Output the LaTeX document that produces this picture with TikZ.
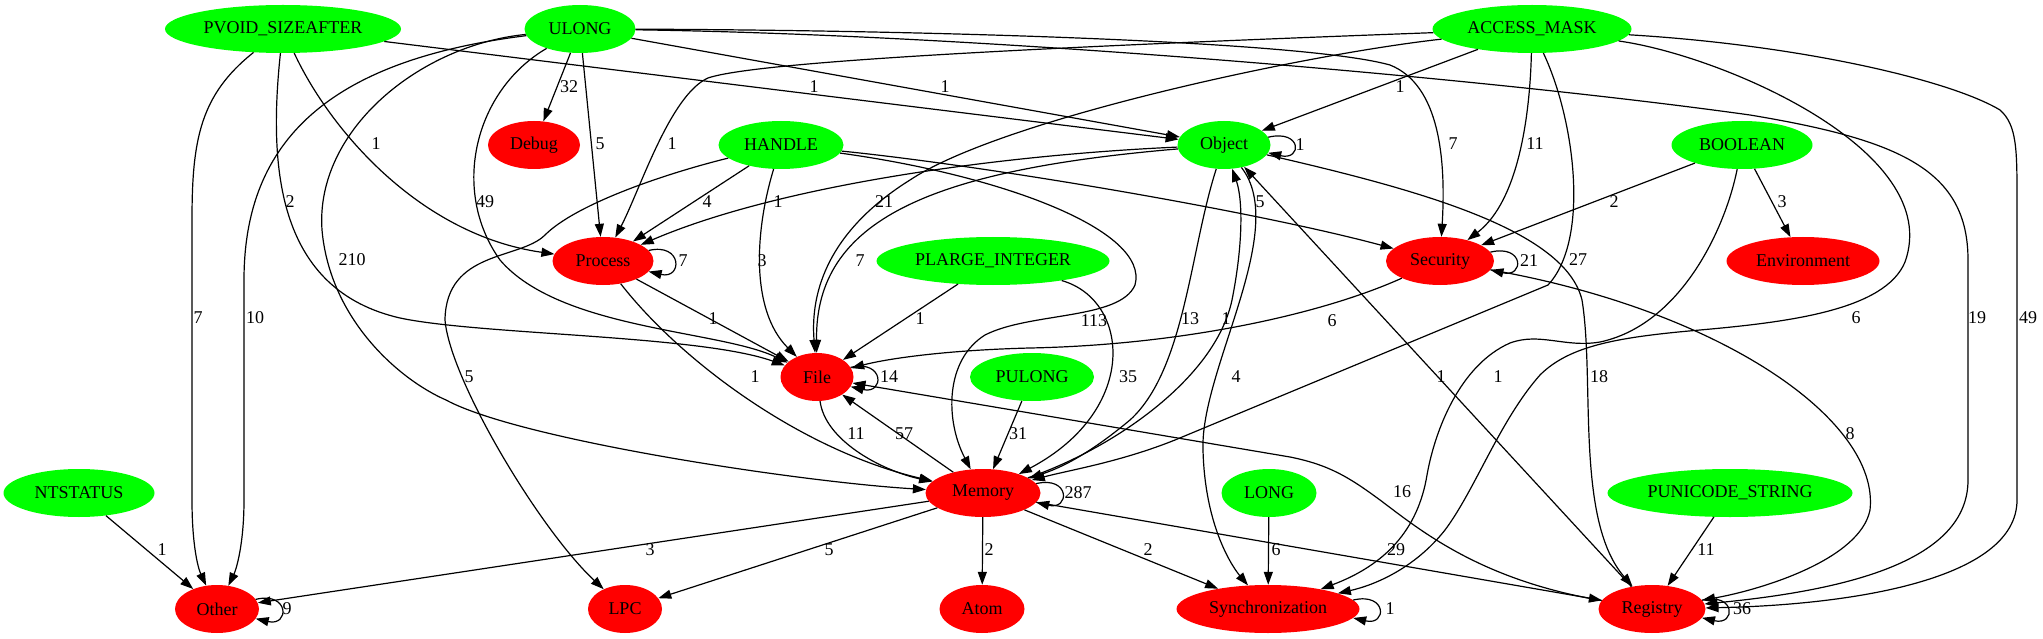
\documentclass[tikz,border=0pt]{standalone}
\usepackage{fontspec}
\setmainfont{Liberation Serif}
\usetikzlibrary{shapes.geometric}
\usetikzlibrary{arrows.meta}

\begin{document}
\begin{tikzpicture}[x=1pt,y=-1pt,every node/.style={font=\fontsize{18}{20}\selectfont},
  src/.style={ellipse,fill=green,inner sep=0pt,minimum height=48pt},
  dst/.style={ellipse,fill=red,inner sep=0pt,minimum height=48pt},
  link/.style={-{Triangle[length=13pt,width=9pt]},line width=1.2pt},
  lbl/.style={inner sep=0pt}]
  \useasboundingbox (0,0) rectangle (2043,639);
  \node[src,minimum width=236pt] (pvoid) at (283,29) {PVOID\_SIZEAFTER};
  \node[src,minimum width=111pt] (ulong) at (580,29) {ULONG};
  \node[src,minimum width=199pt] (access) at (1532,29) {ACCESS\_MASK};
  \node[dst,minimum width=92pt] (debug) at (534,145) {Debug};
  \node[src,minimum width=125pt] (handle) at (781,145) {HANDLE};
  \node[src,minimum width=93pt] (object) at (1224,145) {Object};
  \node[src,minimum width=141pt] (boolean) at (1742,145) {BOOLEAN};
  \node[dst,minimum width=101pt] (process) at (603,261) {Process};
  \node[src,minimum width=233pt] (plarge) at (993,261) {PLARGE\_INTEGER};
  \node[dst,minimum width=108pt] (security) at (1440,261) {Security};
  \node[dst,minimum width=153pt] (environment) at (1803,261) {Environment};
  \node[dst,minimum width=73pt] (file) at (817,377) {File};
  \node[src,minimum width=124pt] (pulong) at (1032,377) {PULONG};
  \node[src,minimum width=151pt] (ntstatus) at (79,493) {NTSTATUS};
  \node[dst,minimum width=115pt] (memory) at (983,493) {Memory};
  \node[src,minimum width=95pt] (long) at (1269,493) {LONG};
  \node[src,minimum width=245pt] (punicode) at (1730,493) {PUNICODE\_STRING};
  \node[dst,minimum width=84pt] (other) at (217,609) {Other};
  \node[dst,minimum width=74pt] (lpc) at (625,609) {LPC};
  \node[dst,minimum width=85pt] (atom) at (982,609) {Atom};
  \node[dst,minimum width=183pt] (sync) at (1268,609) {Synchronization};
  \node[dst,minimum width=107pt] (registry) at (1652,609) {Registry};
  % PVOID_SIZEAFTER
  \draw[link] (pvoid) .. controls (200,95) and (192,140) .. (192,220) -- (192,500) .. controls (192,545) and (198,568) .. (other) node[lbl] (l1) at (198,318) {7};
  \draw[link] (pvoid) .. controls (268,170) and (278,290) .. (400,318) .. controls (480,335) and (700,335) .. (file) node[lbl] (l2) at (290,202) {2};
  \draw[link] (pvoid) .. controls (330,130) and (420,235) .. (process) node[lbl] (l3) at (376,144) {1};
  \draw[link] (pvoid) -- (object) node[lbl] (l4) at (814,87) {1};
  % ULONG
  \draw[link] (ulong) -- (debug) node[lbl] (l5) at (569,87) {32};
  \draw[link] (ulong) -- (process) node[lbl] (l6) at (600,144) {5};
  \draw[link] (ulong) .. controls (475,90) and (450,190) .. (500,260) .. controls (560,330) and (720,330) .. (file) node[lbl] (l7) at (485,202) {49};
  \draw[link] (ulong) .. controls (420,45) and (315,130) .. (322,230) .. controls (330,320) and (400,380) .. (446,400) .. controls (520,440) and (800,482) .. (memory) node[lbl] (l8) at (352,260) {210};
  \draw[link] (ulong) .. controls (330,60) and (244,140) .. (244,280) -- (244,500) .. controls (244,545) and (236,570) .. (other) node[lbl] (l9) at (255,318) {10};
  \draw[link] (ulong) -- (object) node[lbl] (l10) at (945,87) {1};
  \draw[link] (ulong) .. controls (900,30) and (1300,40) .. (1390,65) .. controls (1440,85) and (1446,160) .. (security) node[lbl] (l11) at (1453,144) {7};
  \draw[link] (ulong) .. controls (1000,35) and (1500,80) .. (1750,115) .. controls (1900,140) and (1968,170) .. (1968,260) -- (1968,480) .. controls (1968,560) and (1850,590) .. (registry) node[lbl] (l12) at (1977,318) {19};
  % ACCESS_MASK
  \draw[link] (access) .. controls (1100,45) and (760,60) .. (708,78) .. controls (670,95) and (640,190) .. (process) node[lbl] (l13) at (672,144) {1};
  \draw[link] (access) .. controls (1300,55) and (1000,120) .. (910,180) .. controls (830,230) and (810,290) .. (file) node[lbl] (l14) at (884,202) {21};
  \draw[link] (access) -- (object) node[lbl] (l15) at (1400,87) {1};
  \draw[link] (access) .. controls (1530,110) and (1520,200) .. (security) node[lbl] (l16) at (1535,144) {11};
  \draw[link] (access) .. controls (1575,120) and (1590,240) .. (1548,285) -- (1175,440) .. controls (1120,462) and (1070,470) .. (memory) node[lbl] (l17) at (1578,260) {27};
  \draw[link] (access) .. controls (1720,55) and (1945,150) .. (1905,262) .. controls (1885,310) and (1790,322) .. (1700,330) .. controls (1620,337) and (1570,345) .. (1540,375) .. controls (1500,420) and (1475,490) .. (1445,530) .. controls (1415,568) and (1375,585) .. (sync) node[lbl] (l18) at (1856,318) {6};
  \draw[link] (access) .. controls (1800,45) and (1950,80) .. (2000,110) .. controls (2017,125) and (2017,150) .. (2017,200) -- (2017,500) .. controls (2017,580) and (1850,605) .. (registry) node[lbl] (l19) at (2028,318) {49};
  % HANDLE
  \draw[link] (handle) -- (process) node[lbl] (l20) at (707,202) {4};
  \draw[link] (handle) .. controls (755,230) and (750,310) .. (file) node[lbl] (l21) at (762,261) {3};
  \draw[link] (handle) .. controls (660,175) and (575,205) .. (545,235) .. controls (520,260) and (446,250) .. (445,320) .. controls (450,380) and (540,530) .. (lpc) node[lbl] (l22) at (469,377) {5};
  \draw[link] (handle) .. controls (1000,175) and (1150,230) .. (1135,285) .. controls (1120,320) and (1030,312) .. (985,335) .. controls (945,360) and (945,420) .. (memory) node[lbl] (l23) at (1094,321) {113};
  \draw[link] (handle) .. controls (980,165) and (1250,210) .. (security) node[lbl] (l24) at (1260,202) {5};
  % Object
  \draw[link] (object.10) .. controls +(34,-8) and +(34,8) .. (object.-10) node[lbl] (l25) at (1300,145) {1};
  \draw[link] (object) .. controls (1000,155) and (780,185) .. (process) node[lbl] (l26) at (778,202) {1};
  \draw[link] (object) .. controls (930,170) and (815,220) .. (file) node[lbl] (l27) at (860,261) {7};
  \draw[link] (object) .. controls (1190,250) and (1185,370) .. (1130,420) .. controls (1100,445) and (1070,465) .. (memory) node[lbl] (l28) at (1190,319) {13};
  \draw[link] (memory) .. controls (1110,450) and (1215,380) .. (1232,300) .. controls (1243,245) and (1243,200) .. (object) node[lbl] (l29) at (1226,319) {1};
  \draw[link] (object) .. controls (1290,230) and (1200,370) .. (1203,450) .. controls (1205,530) and (1235,570) .. (sync) node[lbl] (l30) at (1236,377) {4};
  \draw[link] (registry) -- (object) node[lbl] (l31) at (1441,377) {1};
  \draw[link] (object) .. controls (1420,190) and (1565,230) .. (1582,300) .. controls (1595,380) and (1575,520) .. (registry) node[lbl] (l32) at (1599,377) {18};
  % BOOLEAN
  \draw[link] (boolean) -- (security) node[lbl] (l33) at (1614,202) {2};
  \draw[link] (boolean) -- (environment) node[lbl] (l34) at (1782,202) {3};
  \draw[link] (boolean) .. controls (1725,230) and (1680,325) .. (1600,342) .. controls (1565,348) and (1540,332) .. (1510,343) .. controls (1460,365) and (1435,430) .. (1427,475) .. controls (1418,530) and (1385,565) .. (sync) node[lbl] (l35) at (1498,377) {1};
  % Process
  \draw[link] (process.13) .. controls +(34,-8) and +(34,8) .. (process.-13) node[lbl] (l36) at (683,261) {7};
  \draw[link] (process) -- (file) node[lbl] (l37) at (713,319) {1};
  \draw[link] (process) .. controls (680,360) and (800,450) .. (memory) node[lbl] (l38) at (755,377) {1};
  % PLARGE_INTEGER
  \draw[link] (plarge) -- (file) node[lbl] (l39) at (920,319) {1};
  \draw[link] (plarge) .. controls (1130,300) and (1140,410) .. (memory) node[lbl] (l40) at (1128,377) {35};
  % Security
  \draw[link] (security.10) .. controls +(34,-8) and +(34,8) .. (security.-10) node[lbl] (l41) at (1529,261) {21};
  \draw[link] (security) .. controls (1320,315) and (1180,345) .. (1030,348) .. controls (950,350) and (890,358) .. (file) node[lbl] (l42) at (1332,321) {6};
  \draw[link] (security) .. controls (1720,310) and (1880,420) .. (1870,510) .. controls (1860,560) and (1760,590) .. (registry) node[lbl] (l43) at (1850,434) {8};
  % File
  \draw[link] (file.16) .. controls +(34,-8) and +(34,8) .. (file.-16) node[lbl] (l44) at (889,377) {14};
  \draw[link] (file) .. controls (825,440) and (880,470) .. (memory) node[lbl] (l45) at (856,434) {11};
  \draw[link] (memory) -- (file) node[lbl] (l46) at (904,434) {57};
  \draw[link] (pulong) -- (memory) node[lbl] (l47) at (1018,434) {31};
  \draw[link] (registry) .. controls (1480,580) and (1420,530) .. (1380,500) .. controls (1350,478) and (1330,465) .. (1290,457) -- (file) node[lbl] (l48) at (1402,492) {16};
  % Memory
  \draw[link] (memory.10) .. controls +(34,-8) and +(34,8) .. (memory.-10) node[lbl] (l49) at (1078,493) {287};
  \draw[link] (memory) -- (other) node[lbl] (l50) at (650,550) {3};
  \draw[link] (memory) -- (lpc) node[lbl] (l51) at (829,550) {5};
  \draw[link] (memory) -- (atom) node[lbl] (l52) at (989,550) {2};
  \draw[link] (memory) -- (sync) node[lbl] (l53) at (1148,550) {2};
  \draw[link] (memory) -- (registry) node[lbl] (l54) at (1396,550) {29};
  % bottom row
  \draw[link] (ntstatus) -- (other) node[lbl] (l55) at (162,550) {1};
  \draw[link] (other.14) .. controls +(34,-8) and +(34,8) .. (other.-14) node[lbl] (l56) at (287,609) {9};
  \draw[link] (long) -- (sync) node[lbl] (l57) at (1276,550) {6};
  \draw[link] (punicode) -- (registry) node[lbl] (l58) at (1706,550) {11};
  \draw[link] (sync.6) .. controls +(34,-8) and +(34,8) .. (sync.-6) node[lbl] (l59) at (1390,609) {1};
  \draw[link] (registry.10) .. controls +(34,-8) and +(34,8) .. (registry.-10) node[lbl] (l60) at (1742,609) {36};
\end{tikzpicture}
\end{document}
